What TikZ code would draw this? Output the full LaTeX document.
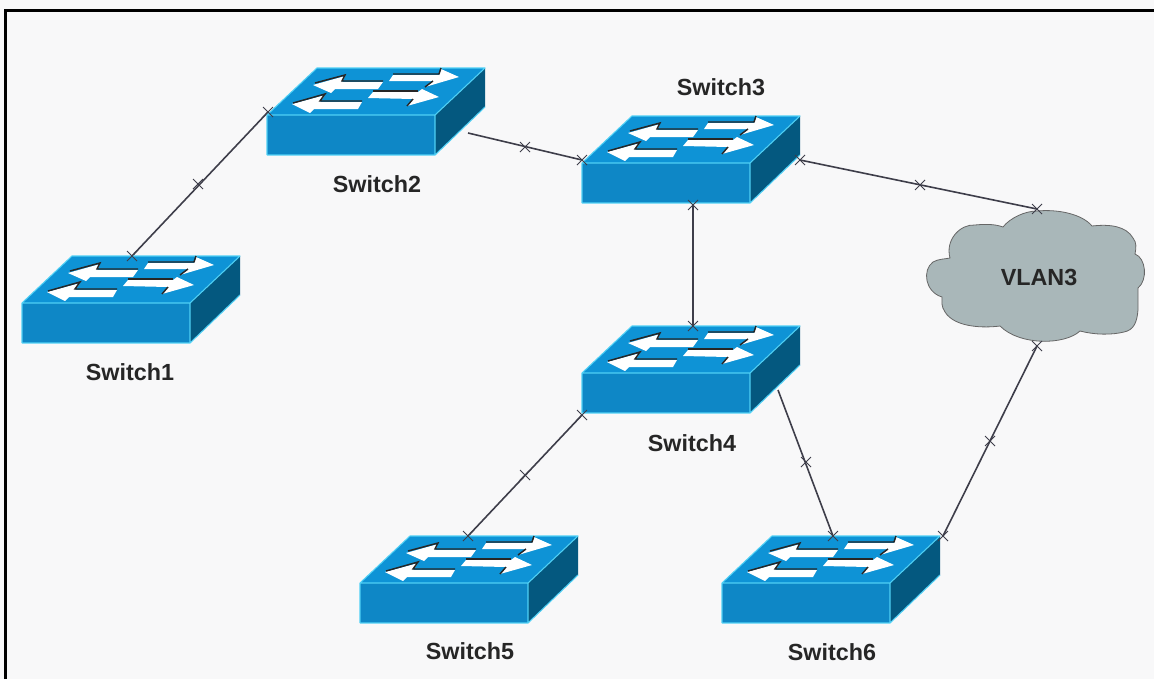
\documentclass[tikz,border=0pt]{standalone}
\usepackage{fontspec}
\setmainfont{Liberation Sans}
\definecolor{topc}{HTML}{0E93D6}
\definecolor{frontc}{HTML}{0E87C6}
\definecolor{sidec}{HTML}{04587F}
\definecolor{edgec}{HTML}{4FD0F5}
\definecolor{bgc}{HTML}{F8F8F9}
\definecolor{cloudc}{HTML}{A9B7B9}
\definecolor{linkc}{HTML}{3E3E4A}
\tikzset{
  x=0.75pt,y=-0.75pt,
  lbl/.style={font=\fontsize{17.5}{20}\selectfont\bfseries,text=black!85,inner sep=0pt},
  linkline/.style={draw=linkc,line width=1.2pt},
  xmark/.style={draw=linkc,line width=0.6pt},
  darkedge/.style={draw=black!85,line width=1.1pt},
  switchpic/.pic={
    \fill[topc] (0,0)--(50,-47)--(218,-47)--(168,0)--cycle;
    \fill[frontc] (0,0) rectangle (168,40);
    \fill[sidec] (168,0)--(218,-47)--(218,-8)--(168,40)--cycle;
    \draw[edgec,line width=0.8pt,line join=round] (0,40)--(0,0)--(50,-47)--(218,-47)--(168,0)--(0,0) (168,0)--(168,40)--(0,40) (168,40)--(218,-8) (168,0)--(218,-47);
    \fill[white] (46,-30)--(78,-39)--(75,-33)--(116,-33)--(111,-26)--(68,-26)--(64,-22)--cycle;
    \fill[white] (25,-11)--(58,-20)--(53,-13)--(95,-13)--(91,-6)--(47,-6)--(43,-2)--cycle;
    \fill[white] (122,-34)--(126,-40)--(172,-40)--(174,-46)--(192,-38)--(158,-28)--(166,-34)--cycle;
    \fill[white] (101,-17)--(106,-23)--(151,-23)--(155,-26)--(172,-18)--(140,-9)--(146,-16)--cycle;
    \draw[darkedge] (48,-32)--(78,-40)--(75,-34)--(116,-34);
    \draw[darkedge] (26,-12)--(58,-21)--(53,-14)--(95,-14);
    \draw[darkedge] (126,-41)--(172,-41)--(174,-47);
    \draw[darkedge] (166,-34)--(158,-28);
    \draw[darkedge] (106,-24)--(151,-24);
    \draw[darkedge] (146,-16)--(140,-9);
  }
}
\newcommand{\xm}[1]{\draw[xmark] ([shift={(-5,-5)}]#1)--([shift={(5,5)}]#1) ([shift={(-5,5)}]#1)--([shift={(5,-5)}]#1);}
\begin{document}
\begin{tikzpicture}
\useasboundingbox (0,0) rectangle (1154,679);
\fill[bgc] (0,0) rectangle (1154,679);
\draw[black,line width=2.6pt] (5.5,679) -- (5.5,10.5) -- (1154,10.5);
\coordinate (a1) at (132,256); \coordinate (a2) at (268,112);
\coordinate (b1) at (468,133); \coordinate (b2) at (582,160);
\coordinate (c1) at (800,160); \coordinate (c2) at (1037,209);
\coordinate (d1) at (693,205); \coordinate (d2) at (693,326);
\coordinate (e1) at (582,415); \coordinate (e2) at (468,536);
\coordinate (f1) at (778,390); \coordinate (f2) at (833,536);
\coordinate (g1) at (943,536); \coordinate (g2) at (1037,346);
\draw[linkline] (a1)--(a2);
\draw[linkline] (b1)--(b2);
\draw[linkline] (c1)--(c2);
\draw[linkline] (d1)--(d2);
\draw[linkline] (e1)--(e2);
\draw[linkline] (f1)--(f2);
\draw[linkline] (g1)--(g2);
\path[fill=cloudc,draw=black!60,line width=0.6pt]
 (1037,211) .. controls (1058,209) and (1082,214) .. (1092,226)
 .. controls (1110,224) and (1126,226) .. (1133,238)
 .. controls (1137,243) and (1136,248) .. (1135,254)
 .. controls (1146,258) and (1148,280) .. (1138,288)
 -- (1138,310)
 .. controls (1137,322) and (1134,330) .. (1124,332)
 .. controls (1112,335) and (1095,335) .. (1080,331)
 .. controls (1065,345) and (1020,346) .. (1000,326)
 .. controls (985,328) and (955,328) .. (945,312)
 .. controls (941,306) and (942,302) .. (942,297)
 .. controls (925,292) and (922,270) .. (933,262)
 .. controls (938,259) and (945,259) .. (950,258)
 .. controls (945,240) and (960,224) .. (975,225)
 .. controls (985,224) and (995,224) .. (1003,227)
 .. controls (1010,218) and (1025,211) .. (1037,211) -- cycle;
\path (22,303) pic {switchpic};
\path (267,115) pic {switchpic};
\path (582,163) pic {switchpic};
\path (582,373) pic {switchpic};
\path (360,583) pic {switchpic};
\path (722,583) pic {switchpic};
\coordinate (m1) at (198,184); \coordinate (m2) at (525,147);
\coordinate (m3) at (920,185); \coordinate (m4) at (525,475);
\coordinate (m5) at (806,462); \coordinate (m6) at (990,441);
\xm{a1}\xm{a2}\xm{m1}\xm{b2}\xm{m2}\xm{c1}\xm{c2}\xm{m3}\xm{d1}\xm{d2}\xm{e1}\xm{e2}\xm{m4}\xm{f2}\xm{m5}\xm{g1}\xm{g2}\xm{m6}
\node[lbl] (s1) at (130,372) {Switch1};
\node[lbl] (s2) at (377,184) {Switch2};
\node[lbl] (s3) at (721,87) {Switch3};
\node[lbl] (s4) at (692,443) {Switch4};
\node[lbl] (s5) at (470,651) {Switch5};
\node[lbl] (s6) at (832,652) {Switch6};
\node[lbl] (v3) at (1039,277) {VLAN3};
\end{tikzpicture}
\end{document}
